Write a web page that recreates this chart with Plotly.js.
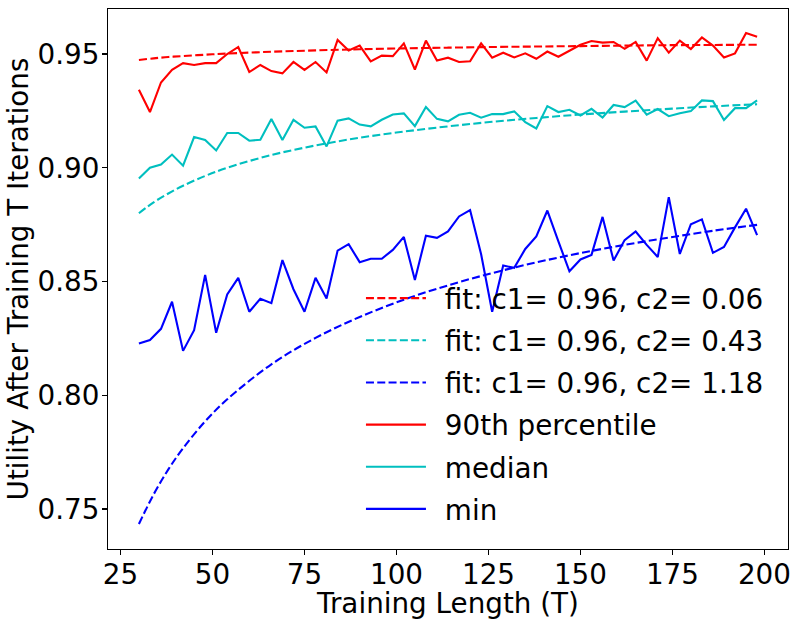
<!DOCTYPE html>
<html>
<head>
<meta charset="utf-8">
<script src="https://cdn.plot.ly/plotly-3.0.1.min.js"></script>
<style>html,body{margin:0;padding:0;background:#fff;}#chart{width:799px;height:620px;}</style>
</head>
<body>
<div id="chart"></div>
<script>
// Training lengths (T)
const trainingLength = [30,33,36,39,42,45,48,51,54,57,60,63,66,69,72,75,78,81,84,87,90,93,96,99,102,105,108,111,114,117,120,123,126,129,132,135,138,141,144,147,150,153,156,159,162,165,168,171,174,177,180,183,186,189,192,195,198];

const p90Values = [0.9343,0.9245,0.9375,0.9431,0.9460,0.9452,0.9460,0.9460,0.9500,0.9531,
  0.9421,0.9452,0.9425,0.9415,0.9465,0.9430,0.9465,0.9419,0.9562,0.9516,
  0.9537,0.9468,0.9493,0.9491,0.9547,0.9432,0.9559,0.9471,0.9484,0.9465,
  0.9468,0.9547,0.9484,0.9506,0.9485,0.9503,0.9479,0.9511,0.9488,0.9515,
  0.9541,0.9557,0.9550,0.9553,0.9523,0.9553,0.9471,0.9570,0.9506,0.9559,
  0.9522,0.9573,0.9537,0.9485,0.9503,0.9592,0.9576];

const medianValues = [0.8953,0.9000,0.9014,0.9058,0.9009,0.9135,0.9122,0.9076,0.9153,0.9153,
  0.9119,0.9123,0.9214,0.9122,0.9211,0.9176,0.9182,0.9094,0.9207,0.9217,
  0.9190,0.9182,0.9211,0.9234,0.9239,0.9183,0.9267,0.9215,0.9204,0.9233,
  0.9242,0.9220,0.9236,0.9236,0.9248,0.9201,0.9173,0.9271,0.9245,0.9255,
  0.9230,0.9259,0.9221,0.9276,0.9267,0.9295,0.9233,0.9258,0.9227,0.9240,
  0.9249,0.9296,0.9293,0.9210,0.9262,0.9262,0.9296];

const minValues = [0.8227,0.8243,0.8292,0.8411,0.8195,0.8286,0.8529,0.8275,0.8443,0.8516,
  0.8367,0.8424,0.8405,0.8594,0.8466,0.8367,0.8516,0.8425,0.8636,0.8664,
  0.8585,0.8600,0.8600,0.8639,0.8696,0.8507,0.8701,0.8692,0.8720,0.8786,
  0.8814,0.8620,0.8367,0.8570,0.8560,0.8643,0.8698,0.8812,0.8676,0.8545,
  0.8597,0.8617,0.8784,0.8592,0.8682,0.8720,0.8661,0.8608,0.8871,0.8621,
  0.8752,0.8773,0.8626,0.8652,0.8738,0.8820,0.8704];

// Fitted curves at sample lengths
const fitLength = [30,34,38,42,48,54,66,78,90,102,114,126,138,150,162,174,186,198];
const fitP90 = [0.9474,0.9481,0.9487,0.9491,0.9497,0.9502,0.9510,0.9516,0.9521,0.9525,0.9528,0.9531,0.9533,0.9535,0.9537,0.9539,0.9540,0.9541];
const fitMedian = [0.8800,0.8848,0.8887,0.8921,0.8964,0.9000,0.9056,0.9098,0.9132,0.9159,0.9182,0.9202,0.9219,0.9234,0.9247,0.9259,0.9270,0.9279];
const fitMin = [0.7434,0.7564,0.7674,0.7767,0.7885,0.7982,0.8136,0.8252,0.8344,0.8420,0.8483,0.8537,0.8584,0.8625,0.8661,0.8693,0.8723,0.8749];

const seriesNames = ["fit: c1= 0.96, c2= 0.06","fit: c1= 0.96, c2= 0.43","fit: c1= 0.96, c2= 1.18","90th percentile","median","min"];
const xTicks = [25,50,75,100,125,150,175,200];
const yTicks = [0.75,0.80,0.85,0.90,0.95];

const RED = '#ff0000', CYAN = '#00bfbf', BLUE = '#0000ff';
const dash = '8px,3.3px';
const gapPrefix = '\u2002';

const traces = [
  {x: fitLength, y: fitP90, name: gapPrefix + seriesNames[0], legendgroup: 'g0', mode: 'lines', line: {color: RED, width: 2.1, dash: dash, shape: 'spline'}},
  {x: fitLength, y: fitMedian, name: gapPrefix + seriesNames[1], legendgroup: 'g1', mode: 'lines', line: {color: CYAN, width: 2.1, dash: dash, shape: 'spline'}},
  {x: fitLength, y: fitMin, name: gapPrefix + seriesNames[2], legendgroup: 'g2', mode: 'lines', line: {color: BLUE, width: 2.1, dash: dash, shape: 'spline'}},
  {x: trainingLength, y: p90Values, name: gapPrefix + seriesNames[3], legendgroup: 'g3', mode: 'lines', line: {color: RED, width: 2.1}},
  {x: trainingLength, y: medianValues, name: gapPrefix + seriesNames[4], legendgroup: 'g4', mode: 'lines', line: {color: CYAN, width: 2.1}},
  {x: trainingLength, y: minValues, name: gapPrefix + seriesNames[5], legendgroup: 'g5', mode: 'lines', line: {color: BLUE, width: 2.1}}
];

const FONT = 'DejaVu Sans, Verdana, sans-serif';
const FS = 27.8;

const layout = {
  width: 799, height: 620,
  margin: {l: 108.3, r: 10.5, t: 9.3, b: 71, pad: 0},
  paper_bgcolor: '#fff', plot_bgcolor: '#fff',
  font: {family: FONT, size: FS, color: '#000'},
  showlegend: true,
  legend: {
    x: 0.372, y: 0.51, xanchor: 'left', yanchor: 'top',
    bgcolor: 'rgba(0,0,0,0)', borderwidth: 0,
    font: {family: FONT, size: FS, color: '#000'},
    itemwidth: 60, tracegroupgap: 3
  },
  xaxis: {
    range: [21.6, 206.4], tickvals: xTicks, ticktext: xTicks.map(String),
    showgrid: false, zeroline: false,
    showline: true, linecolor: '#000', linewidth: 1.1, mirror: true,
    ticks: 'outside', ticklen: 4.9, tickwidth: 1.1, tickcolor: '#000',
    ticklabelstandoff: -4,
    tickfont: {family: FONT, size: FS, color: '#000'},
    title: {text: 'Training Length (T)', font: {family: FONT, size: FS, color: '#000'}},
    automargin: false
  },
  yaxis: {
    range: [0.7324, 0.9698], tickvals: yTicks, ticktext: yTicks.map(v => v.toFixed(2)),
    showgrid: false, zeroline: false,
    showline: true, linecolor: '#000', linewidth: 1.1, mirror: true,
    ticks: 'outside', ticklen: 4.9, tickwidth: 1.1, tickcolor: '#000',
    ticklabelstandoff: -3,
    tickfont: {family: FONT, size: FS, color: '#000'},
    title: {text: 'Utility After Training T Iterations', font: {family: FONT, size: FS, color: '#000'}, standoff: 0},
    automargin: true
  }
};

Plotly.newPlot('chart', traces, layout, {displayModeBar: false, staticPlot: true});
</script>
</body>
</html>
